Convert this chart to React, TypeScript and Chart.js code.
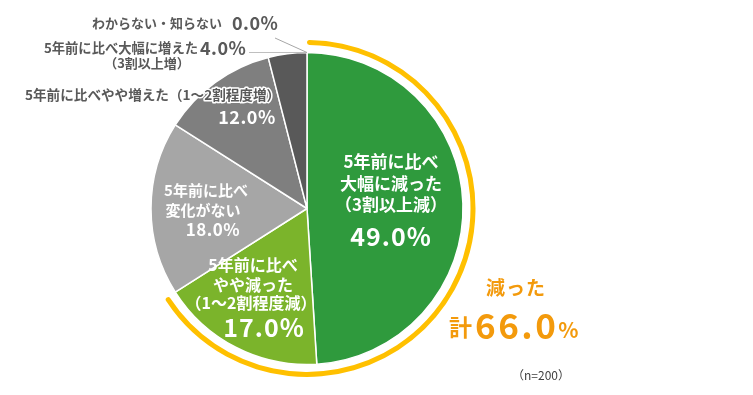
import React, { useEffect, useRef } from "react";
import { Chart, registerables } from "chart.js";

Chart.register(...registerables);

const categories = [
  "5年前に比べ大幅に減った（3割以上減）",
  "5年前に比べやや減った（1～2割程度減）",
  "5年前に比べ変化がない",
  "5年前に比べやや増えた（1～2割程度増）",
  "5年前に比べ大幅に増えた（3割以上増）",
  "わからない・知らない",
];
const values = [49.0, 17.0, 18.0, 12.0, 4.0, 0.0];
const sliceColors = ["#2F9A3D", "#7BB42B", "#A6A6A6", "#7F7F7F", "#595959", "#404040"];
const decreasedIdx = [0, 1];
const sampleSize = 200;

const decreasedTotal = decreasedIdx.reduce((s, i) => s + values[i], 0);
const fmt = (v: number) => v.toFixed(1) + "%";

const FONT = '"Noto Sans CJK JP", "Noto Sans", sans-serif';
const ORANGE_TEXT = "#F39A0C";

function txt(
  ctx: CanvasRenderingContext2D,
  s: string,
  x: number,
  y: number,
  size: number,
  color: string,
  align: CanvasTextAlign = "center",
  stroke?: string,
  spacing = 0
) {
  ctx.font = `bold ${size}px ${FONT}`;
  (ctx as any).letterSpacing = `${spacing}px`;
  ctx.textAlign = align;
  ctx.textBaseline = "middle";
  if (stroke) {
    ctx.lineWidth = 3;
    ctx.strokeStyle = stroke;
    ctx.lineJoin = "round";
    ctx.strokeText(s, x, y);
  }
  ctx.fillStyle = color;
  ctx.fillText(s, x, y);
  const w = ctx.measureText(s).width;
  (ctx as any).letterSpacing = "0px";
  return w;
}

const labelPlugin = {
  id: "pieLabels",
  afterDatasetsDraw(chart: any) {
    const meta = chart.getDatasetMeta(2);
    const arc = meta.data[0];
    if (!arc) return;
    const cx = arc.x;
    const cy = arc.y;
    const ctx: CanvasRenderingContext2D = chart.ctx;
    ctx.save();
    const W = "#FFFFFF";
    const D = "#595959";

    // 49%
    txt(ctx, "5年前に比べ", cx + 84, cy - 47, 17, W);
    txt(ctx, "大幅に減った", cx + 84, cy - 25, 17, W);
    txt(ctx, "（3割以上減）", cx + 84, cy - 3.5, 17, W);
    txt(ctx, fmt(values[0]), cx + 84, cy + 28, 25, W, "center", undefined, 1);

    // 17%
    txt(ctx, "5年前に比べ", cx - 54, cy + 56.5, 16, W);
    txt(ctx, "やや減った", cx - 54, cy + 76.5, 16, W);
    txt(ctx, "（1～2割程度減）", cx - 56, cy + 94.5, 16, W);
    txt(ctx, fmt(values[1]), cx - 43, cy + 118.5, 25, W, "center", undefined, 1);

    // 18%
    txt(ctx, "5年前に比べ", cx - 101, cy - 18.5, 15, W);
    txt(ctx, "変化がない", cx - 104, cy + 1.5, 15, W);
    txt(ctx, fmt(values[2]), cx - 94, cy + 21.5, 17, W, "center", undefined, 0.5);

    // 12%
    txt(ctx, "5年前に比べやや増えた（1～2割程度増）", 25, cy - 113.5, 13.6, D, "left", W);
    txt(ctx, fmt(values[3]), cx - 60, cy - 91.5, 18, W, "center", undefined, 0.5);

    // 4%
    const topY = cy - 156;
    ctx.strokeStyle = "#BFBFBF";
    ctx.lineWidth = 1;
    ctx.beginPath();
    ctx.moveTo(249, topY);
    ctx.lineTo(cx, topY);
    ctx.stroke();
    txt(ctx, "5年前に比べ大幅に増えた", 198, cy - 160.5, 13.3, D, "right");
    txt(ctx, fmt(values[4]), 200, cy - 160.5, 18, D, "left", undefined, 0.5);
    txt(ctx, "（3割以上増）", 147, cy - 145.5, 13, D);

    // 0%
    ctx.strokeStyle = "#A6A6A6";
    ctx.lineWidth = 1;
    ctx.beginPath();
    ctx.moveTo(275, cy - 170.5);
    ctx.lineTo(cx, topY);
    ctx.stroke();
    txt(ctx, "わからない・知らない", 222, cy - 185.5, 13, D, "right");
    txt(ctx, fmt(values[5]), 232, cy - 185.5, 18, D, "left", undefined, 0.5);

    // total decreased
    txt(ctx, "減った", 516, 288, 19, ORANGE_TEXT, "center", undefined, 1);
    txt(ctx, "計", 449, 327, 23, ORANGE_TEXT, "left");
    const big = decreasedTotal.toFixed(1);
    const bw = txt(ctx, big, 475, 326, 35, ORANGE_TEXT, "left", undefined, 2.5);
    txt(ctx, "%", 475 + bw, 330, 21, ORANGE_TEXT, "left");

    // n
    ctx.font = `12px ${FONT}`;
    ctx.fillStyle = "#404040";
    ctx.textAlign = "center";
    ctx.textBaseline = "middle";
    ctx.fillText(`（n=${sampleSize}）`, 541, 375);

    ctx.restore();
  },
};

export default function App() {
  const ref = useRef<HTMLCanvasElement | null>(null);
  useEffect(() => {
    if (!ref.current) return;
    const chart = new Chart(ref.current, {
      type: "pie",
      data: {
        labels: categories,
        datasets: [
          {
            data: [decreasedTotal, 100 - decreasedTotal],
            backgroundColor: ["#FFC000", "rgba(0,0,0,0)"],
            borderWidth: 0,
            hoverBorderWidth: 0,
            borderRadius: 2.5,
            weight: 5,
          } as any,
          {
            data: [100],
            backgroundColor: ["rgba(0,0,0,0)"],
            borderWidth: 0,
            hoverBorderWidth: 0,
            weight: 7.5,
          } as any,
          {
            data: values,
            backgroundColor: sliceColors,
            borderColor: "#FFFFFF",
            borderWidth: 1.5,
            weight: 156,
          } as any,
        ],
      },
      options: {
        responsive: false,
        animation: false,
        layout: { padding: { left: 138.5, right: 277.5, top: 40, bottom: 18 } },
        plugins: {
          legend: { display: false },
          tooltip: { enabled: false },
        },
        events: [],
      },
      plugins: [labelPlugin],
    });
    return () => chart.destroy();
  }, []);
  return (
    <div style={{ position: "absolute", left: 0, top: 0, width: 753, height: 395, background: "#fff" }}>
      <canvas ref={ref} width={753} height={395} />
    </div>
  );
}
